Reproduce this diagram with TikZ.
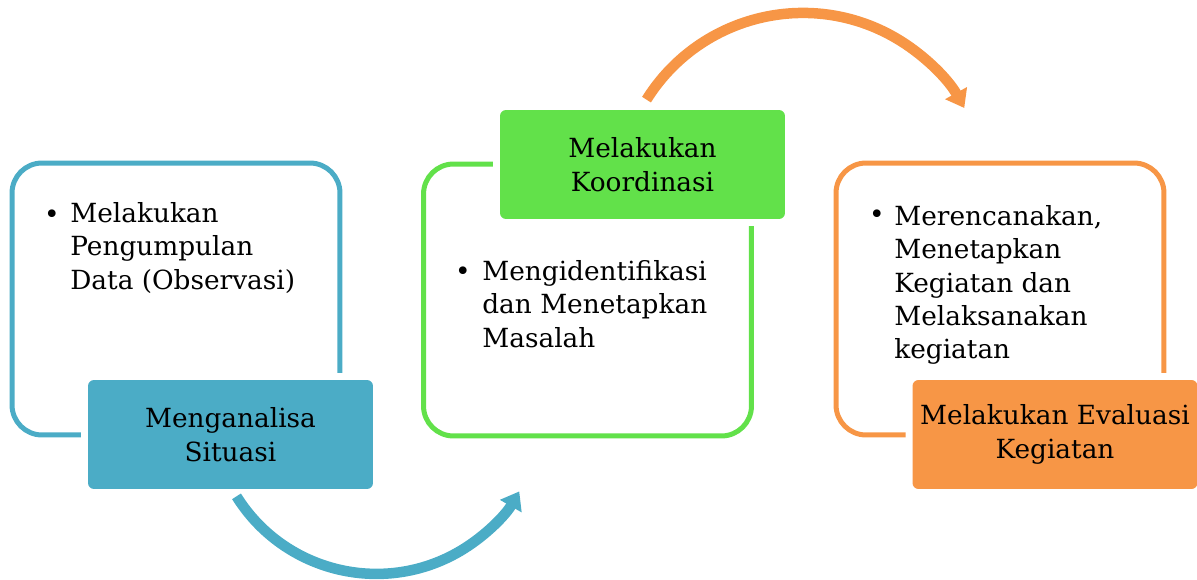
\documentclass[tikz,border=0pt]{standalone}
\usepackage{fontspec}
\setmainfont{DejaVu Serif}
\usetikzlibrary{arrows.meta,calc}
\definecolor{sitblue}{HTML}{4BACC6}
\definecolor{koorgreen}{RGB}{98,225,74}
\definecolor{evalorange}{HTML}{F79646}

\begin{document}
\begin{tikzpicture}[
            x=0.02cm, y=0.02cm,
            font=\fontsize{15}{19}\selectfont,
            panel/.style={draw=#1, line width=0.1cm, rounded corners=0.6cm, minimum width=6.56cm, minimum height=5.44cm},
            phase/.style={fill=#1, rounded corners=0.12cm, minimum width=5.7cm, minimum height=2.18cm, align=center, preaction={draw=white, line width=0.28cm}},
            points/.style={anchor=north west, align=left, inner sep=0pt},
            bulletmark/.style={anchor=base, inner sep=0pt},
            turn/.style={draw=#1, line width=0.21cm, -{Triangle[width=0.48cm, length=0.34cm]}}
        ]
            \useasboundingbox (0,0) rectangle (1197,579);

            % outline frames
            \node[panel=sitblue] (sitframe) at (176,280) {};
            \node[panel=koorgreen] (koorframe) at (587.5,279) {};
            \node[panel=evalorange] (evalframe) at (1000,280) {};

            % step titles
            \node[phase=sitblue] (sit) at (230.5,144.5) {Menganalisa\\Situasi};
            \node[phase=koorgreen] (koord) at (642.5,414.5) {Melakukan\\Koordinasi};
            \node[phase=evalorange] (eval) at (1055,144.5) {Melakukan Evaluasi\\Kegiatan};

            % bullet points
            \node[bulletmark] (sitdot) at (52,356) {\textbullet};
            \node[points] (sititem) at (70,377) {Melakukan\\Pengumpulan\\Data (Observasi)};
            \node[bulletmark] (koordot) at (463,299) {\textbullet};
            \node[points] (kooritem) at (482,319) {Mengidentifikasi\\dan Menetapkan\\Masalah};
            \node[bulletmark] (evaldot) at (877,356) {\textbullet};
            \node[points] (evalitem) at (894,374) {Merencanakan,\\Menetapkan\\Kegiatan dan\\Melaksanakan\\kegiatan};

            % curved arrows
            \draw[turn=sitblue] ($(sit.south)+(6,-7)$) arc[start angle=212, end angle=330, radius=3.3cm];
            \draw[turn=evalorange] ($(koord.north)+(4,10)$) arc[start angle=148, end angle=29, radius=3.69cm];
        \end{tikzpicture}
\end{document}
